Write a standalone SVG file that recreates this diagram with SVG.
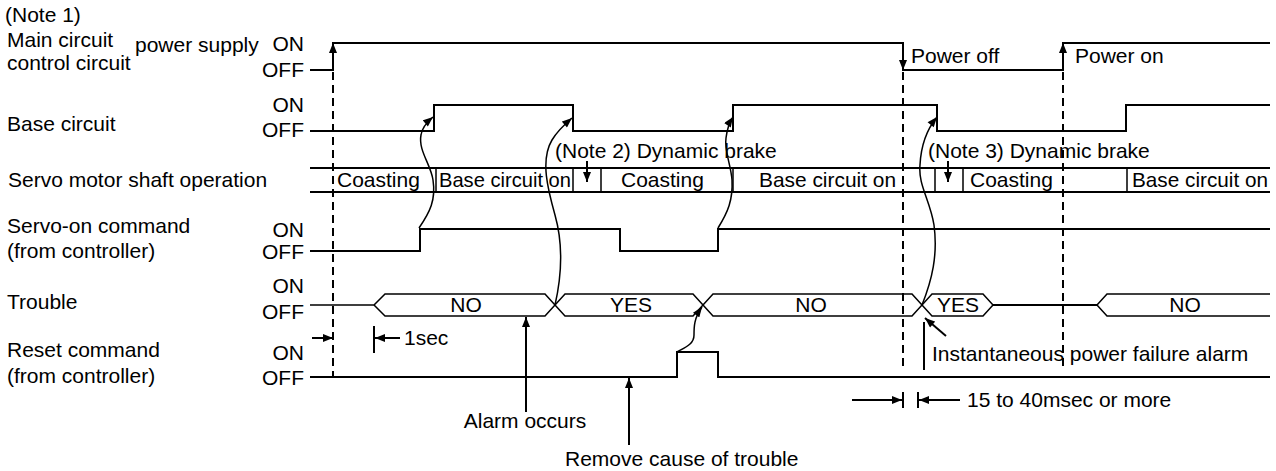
<svg xmlns="http://www.w3.org/2000/svg" width="1276" height="471" viewBox="0 0 1276 471">
<defs>
<marker id="ah" viewBox="0 0 10 8" refX="10" refY="4" markerWidth="11" markerHeight="8" markerUnits="userSpaceOnUse" orient="auto"><path d="M0,0 L10,4 L0,8 Z" fill="#000"/></marker>
</defs>
<style>
text{font-family:"Liberation Sans",Arial,sans-serif;font-size:21px;fill:#000}
.r{text-anchor:end}
.m{text-anchor:middle}
.sig{fill:none;stroke:#000;stroke-width:2}
.thin{fill:none;stroke:#000;stroke-width:1.5}
.dash{fill:none;stroke:#000;stroke-width:2;stroke-dasharray:8,5}
.arr{fill:none;stroke:#000;stroke-width:1.5;marker-end:url(#ah)}
.arr2{fill:none;stroke:#000;stroke-width:2;marker-end:url(#ah)}
</style>
<rect width="1276" height="471" fill="#fff"/>

<g id="row-main-power">
<text x="5" y="22">(Note 1)</text>
<text x="7" y="47">Main circuit</text>
<text x="135" y="52">power supply</text>
<text x="7" y="70">control circuit</text>
<text class="r" x="304" y="51">ON</text>
<text class="r" x="304" y="77">OFF</text>
<path class="sig" d="M310,70 H333 V43 H903 V70 H1063 V43 H1270"/>
<path class="arr2" d="M333,70 V43"/>
<path class="arr2" d="M903,43 V70"/>
<path class="arr2" d="M1063,70 V43"/>
<text x="911" y="63">Power off</text>
<text x="1075" y="63">Power on</text>
</g>

<g id="row-base-circuit">
<text x="7" y="131">Base circuit</text>
<text class="r" x="304" y="112">ON</text>
<text class="r" x="304" y="137">OFF</text>
<path class="sig" d="M310,131 H434 V105 H573 V131 H733 V105 H937 V131 H1126 V105 H1270"/>
</g>

<g id="row-shaft">
<text x="8" y="187">Servo motor shaft operation</text>
<path class="sig" d="M310,168 H1270 M310,192 H1270"/>
<path class="thin" d="M436,168 V192 M573,168 V192 M601,168 V192 M733,168 V192 M935,168 V192 M963,168 V192 M1127,168 V192"/>
<text x="337" y="187">Coasting</text>
<text x="439" y="187" textLength="132" lengthAdjust="spacingAndGlyphs">Base circuit on</text>
<text x="621" y="187">Coasting</text>
<text x="759" y="187" textLength="137" lengthAdjust="spacingAndGlyphs">Base circuit on</text>
<text x="970" y="187">Coasting</text>
<text x="1132" y="187" textLength="136" lengthAdjust="spacingAndGlyphs">Base circuit on</text>
<text x="555" y="158">(Note 2) Dynamic brake</text>
<text x="928" y="158">(Note 3) Dynamic brake</text>
<path class="arr2" d="M587,161 V182"/>
<path class="arr2" d="M948,161 V182"/>
</g>

<g id="row-servo-on">
<text x="7" y="233">Servo-on command</text>
<text x="7" y="258">(from controller)</text>
<text class="r" x="304" y="237">ON</text>
<text class="r" x="304" y="259">OFF</text>
<path class="sig" d="M310,251 H420 V229 H620 V251 H718 V229 H1270"/>
</g>

<g id="row-trouble">
<text x="7" y="309">Trouble</text>
<text class="r" x="304" y="293">ON</text>
<text class="r" x="304" y="319">OFF</text>
<path class="thin" d="M310,305 H374 L385,294 H545 L565,316 H693 L713,294 H912 L932,316 H983 L993,305"/>
<path class="thin" d="M374,305 L385,316 H545 L565,294 H693 L713,316 H912 L932,294 H983 L993,305"/>
<path class="sig" d="M993,305 H1097"/>
<path class="thin" d="M1097,305 L1107,294 H1270 M1097,305 L1107,316 H1270"/>
<text class="m" x="466" y="312">NO</text>
<text class="m" x="631" y="312">YES</text>
<text class="m" x="811" y="312">NO</text>
<text class="m" x="958" y="312">YES</text>
<text class="m" x="1185" y="312">NO</text>
</g>

<g id="row-reset">
<text x="7" y="357">Reset command</text>
<text x="7" y="383">(from controller)</text>
<text class="r" x="304" y="360">ON</text>
<text class="r" x="304" y="385">OFF</text>
<path class="sig" d="M310,377 H677 V352 H718 V377 H1270"/>
</g>

<g id="timing-marks">
<path class="dash" d="M333,72 V377 M903,72 V370 M1063,72 V368"/>
<path class="arr2" d="M312,338 H333"/>
<path class="sig" d="M374,326 V353"/>
<path class="arr2" d="M400,338 H375"/>
<text x="404" y="345">1sec</text>
<path class="arr2" d="M852,400 H902"/>
<path class="sig" d="M903,392 V408 M918,392 V408"/>
<path class="arr2" d="M960,400 H919"/>
<text x="967" y="407">15 to 40msec or more</text>
<path class="sig" d="M924,322 V370"/>
<path class="arr2" d="M946,336 L925,318"/>
<text x="932" y="361">Instantaneous power failure alarm</text>
<path class="arr2" d="M526,412 V317"/>
<text class="m" x="525" y="428">Alarm occurs</text>
<path class="arr2" d="M629,445 V378"/>
<text x="565" y="466">Remove cause of trouble</text>
</g>

<g id="connectors">
<path class="arr" d="M419,228 C430,212 436,200 433,180 C431,165 418,150 421,135 C422,128 427,122 433,117"/>
<path class="arr" d="M555,305 C563,270 562,240 555,215 C548,190 540,160 552,140 C558,130 565,124 572,118"/>
<path class="arr" d="M718,228 C728,212 733,200 732,180 C731,165 724,150 726,138 C727,130 729,123 733,117"/>
<path class="arr" d="M922,305 C932,280 938,255 934,225 C930,200 918,185 920,165 C921,145 928,128 937,117"/>
<path class="arr" d="M677,352 C686,347 694,344 694,335 C694,327 694,318 702,307"/>
</g>
</svg>
